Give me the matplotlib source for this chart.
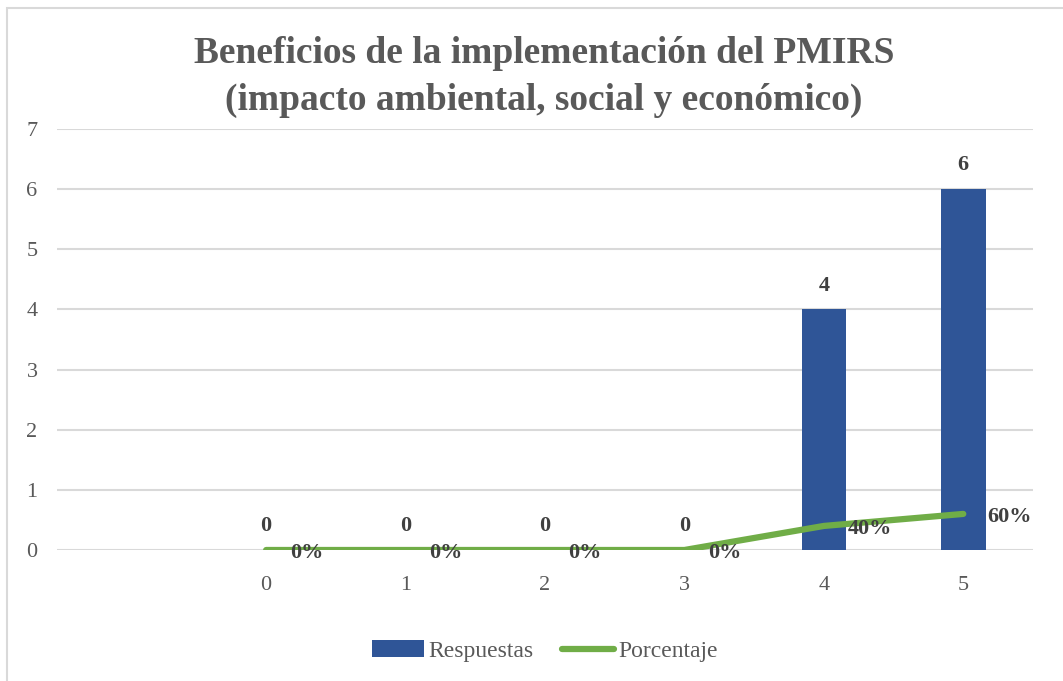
import numpy as np
import matplotlib.pyplot as plt
from matplotlib.patches import Rectangle

# data (first slot is empty)
categorias = ["", "0", "1", "2", "3", "4", "5"]
respuestas = [np.nan, 0, 0, 0, 0, 4, 6]
porcentaje = [np.nan, 0.0, 0.0, 0.0, 0.0, 0.4, 0.6]
etiquetas_pct = ["", "0%", "0%", "0%", "0%", "40%", "60%"]

plt.rcParams['font.family'] = ['Liberation Serif', 'DejaVu Serif']
gris = "#595959"
azul = "#2F5597"
verde = "#70AD47"

fig = plt.figure(figsize=(10.63, 6.81), dpi=100)
ax = fig.add_axes([57/1063, 1 - 550/681, (1033-57)/1063, (550-129)/681])

x = np.arange(len(categorias))
barras = ax.bar(x, respuestas, width=0.32, color=azul, zorder=3, label="Respuestas")
linea, = ax.plot(x, porcentaje, color=verde, lw=4.5, solid_capstyle="round",
                 solid_joinstyle="round", zorder=4, label="Porcentaje")

for xi, v in zip(x, respuestas):
    if np.isnan(v):
        continue
    ax.annotate(f"{v:g}", (xi, v), xytext=(0, 10), textcoords="offset points",
                ha="center", va="bottom", fontsize=16, fontweight="bold", color="#404040")
for xi, v, t in zip(x, porcentaje, etiquetas_pct):
    if np.isnan(v):
        continue
    ax.annotate(t, (xi, v), xytext=(17, -2), textcoords="offset points",
                ha="left", va="center", fontsize=16, fontweight="bold", color="#404040", zorder=5)

ax.set_xlim(-0.5, 6.5)
ax.set_ylim(0, 7)
ax.set_yticks(range(8))
ax.set_xticks(x)
ax.set_xticklabels(categorias)
ax.tick_params(length=0, labelsize=16, labelcolor=gris)
ax.tick_params(axis="y", pad=14)
ax.tick_params(axis="x", pad=19)
ax.grid(axis="y", color="#d9d9d9", lw=1.5, zorder=0)
for s in ax.spines.values():
    s.set_visible(False)

fig.suptitle("Beneficios de la implementación del PMIRS\n(impacto ambiental, social y económico)",
             x=544/1063, y=1 - 36/681, va="top", fontsize=27, fontweight="bold",
             color=gris, linespacing=1.45)

leg = fig.legend([barras, linea], ["Respuestas", "Porcentaje"], loc="center",
                 bbox_to_anchor=(545/1063, 1 - 651/681), ncol=2,
                 frameon=False, fontsize=17, labelcolor=gris, handlelength=2.2,
                 handletextpad=0.2, columnspacing=1.2)

fig.patches.append(Rectangle((7/1063, -0.05), 1.1, 1 - 8/681 + 0.05, transform=fig.transFigure,
                             fill=False, edgecolor="#d9d9d9", lw=1.5))

fig.savefig("out.png", dpi=100)
